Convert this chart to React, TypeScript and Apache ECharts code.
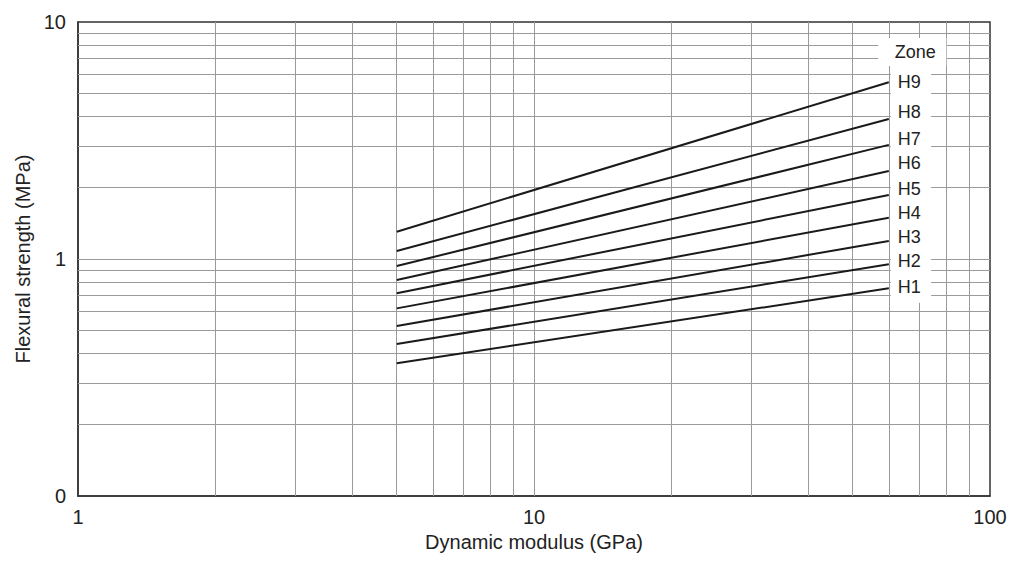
import React, { useEffect, useRef } from "react";
import * as echarts from "echarts";

const zones = ["H1", "H2", "H3", "H4", "H5", "H6", "H7", "H8", "H9"];
const xStart = 5;
const xEnd = 60;
const startValues = [0.363, 0.438, 0.522, 0.619, 0.717, 0.815, 0.934, 1.081, 1.304];
const endValues = [0.752, 0.95, 1.191, 1.494, 1.862, 2.35, 3.03, 3.9, 5.57];
const labelOffsets = [-1, -3, -4, -5, -6, -8, -6, -7, 0];
const xGridValues = [2, 3, 4, 5, 6, 7, 8, 9, 10, 20, 30, 40, 50, 60, 70, 80, 90];
const yGridValues = [0.2, 0.3, 0.4, 0.5, 0.6, 0.7, 0.8, 0.9, 1, 2, 3, 4, 5, 6, 7, 8, 9];
const yTickLabels: Record<string, string> = { "0.1": "0", "1": "1", "10": "10" };
const xTickLabels: Record<string, string> = { "1": "1", "10": "10", "100": "100" };

const FONT = "Liberation Sans";
const TXT = "#222";

export default function App() {
  const ref = useRef<HTMLDivElement>(null);
  useEffect(() => {
    document.body.style.margin = "0";
    const chart = echarts.init(ref.current!, null, { renderer: "svg" });
    const lineSeries = zones.map((z, i) => ({
      name: z,
      type: "line",
      z: 5,
      symbol: "none",
      silent: true,
      lineStyle: { color: "#1a1a1a", width: 2 },
      data: [
        [xStart, startValues[i]],
        [xEnd, endValues[i]],
      ],
      endLabel: {
        show: true,
        formatter: z,
        distance: 9,
        offset: [0, labelOffsets[i]],
        color: TXT,
        fontSize: 18,
        fontFamily: FONT,
      },
    }));
    chart.setOption({
      animation: false,
      textStyle: { fontFamily: FONT },
      grid: {
        left: 78,
        right: 22,
        top: 22,
        bottom: 67,
        show: true,
        borderColor: "#333",
        borderWidth: 1.5,
        backgroundColor: "transparent",
      },
      xAxis: {
        type: "log",
        logBase: 10,
        min: 1,
        max: 100,
        name: "Dynamic modulus (GPa)",
        nameLocation: "middle",
        nameGap: 34,
        nameTextStyle: { fontSize: 20, color: TXT, fontFamily: FONT },
        axisLine: { show: true, lineStyle: { color: "#333", width: 1.5 } },
        axisTick: { show: false },
        splitLine: { show: false },
        axisLabel: {
          fontSize: 20,
          color: TXT,
          fontFamily: FONT,
          margin: 11,
          formatter: (v: number) => xTickLabels[String(v)] ?? "",
        },
      },
      yAxis: {
        type: "log",
        logBase: 10,
        min: 0.1,
        max: 10,
        name: "Flexural strength (MPa)",
        nameLocation: "middle",
        nameGap: 43,
        nameTextStyle: { fontSize: 20, color: TXT, fontFamily: FONT },
        axisLine: { show: true, lineStyle: { color: "#333", width: 1.5 } },
        axisTick: { show: false },
        splitLine: { show: false },
        axisLabel: {
          fontSize: 20,
          color: TXT,
          fontFamily: FONT,
          margin: 12,
          formatter: (v: number) => yTickLabels[String(Math.round(v * 10) / 10)] ?? "",
        },
      },
      series: [
        {
          name: "grid",
          type: "line",
          data: [],
          z: 1,
          silent: true,
          markLine: {
            silent: true,
            z: 1,
            symbol: "none",
            label: { show: false },
            lineStyle: { color: "#9a9a9a", width: 1, type: "solid" },
            data: [
              ...xGridValues.map((v) => ({ xAxis: v })),
              ...yGridValues.map((v) => ({ yAxis: v })),
            ],
          },
        },
        {
          name: "cover",
          type: "line",
          data: [],
          z: 3,
          silent: true,
          markArea: {
            silent: true,
            z: 3,
            itemStyle: { color: "#ffffff" },
            data: [
              [
                { xAxis: 60.6, yAxis: 0.654 },
                { xAxis: 74.3, yAxis: 6.52 },
              ],
              [
                {
                  xAxis: 56.9,
                  yAxis: 8.56,
                  label: {
                    show: true,
                    position: "inside",
                    formatter: "Zone",
                    color: TXT,
                    fontSize: 18,
                    fontFamily: FONT,
                    offset: [3, 0],
                  },
                },
                { xAxis: 80.2, yAxis: 6.52 },
              ],
            ],
          },
        },
        ...lineSeries,
      ],
    });
    return () => chart.dispose();
  }, []);
  return <div ref={ref} style={{ width: 1012, height: 563 }} />;
}
